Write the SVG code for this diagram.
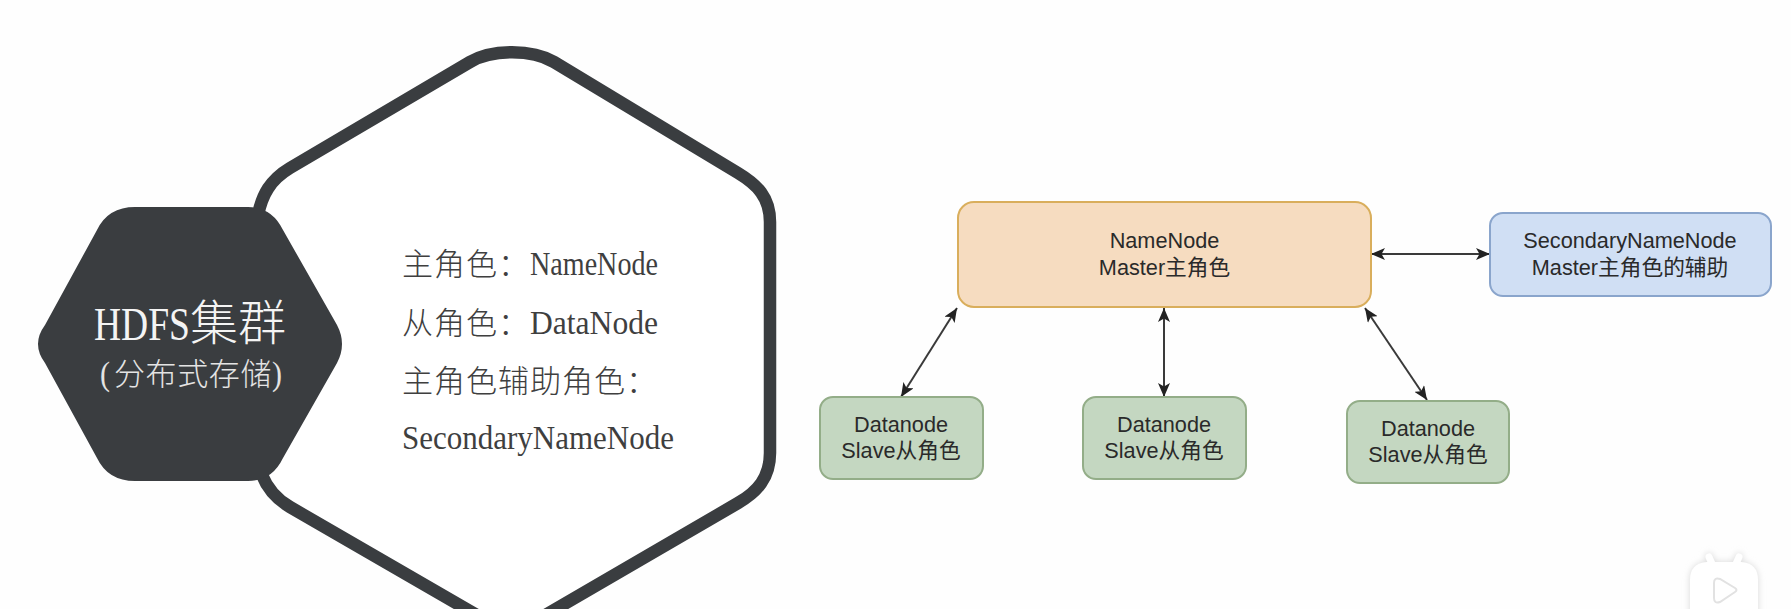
<svg xmlns="http://www.w3.org/2000/svg" width="1791" height="609" viewBox="0 0 1791 609">
<style>
.cn{font-family:"Liberation Serif","Noto Sans CJK SC",serif}
.body{font-size:32px;fill:#3f3f3f}
.lat{font-family:"Liberation Serif",serif;font-size:33px}
.zh{font-family:"Noto Sans CJK SC",sans-serif;font-size:31px;font-weight:300}
.box text{font-family:"Liberation Sans","Noto Sans CJK SC",sans-serif;font-size:21.7px;fill:#2a2a2a;text-anchor:middle}
.box rect{stroke-width:2}
.green rect{fill:#c4d7c1;stroke:#93ad88}
.conn line{stroke:#3a3a3a;stroke-width:2;marker-start:url(#arr);marker-end:url(#arr)}
</style>
<defs>
<marker id="arr" viewBox="0 0 14 12" refX="14" refY="6" markerUnits="userSpaceOnUse" markerWidth="14" markerHeight="12" orient="auto-start-reverse"><path d="M0,0 L14,6 L0,12 L3.5,6 Z" fill="#222"/></marker>
<filter id="soft" x="-30%" y="-30%" width="160%" height="160%"><feGaussianBlur stdDeviation="3"/></filter>
</defs>
<rect width="1791" height="609" fill="#fefefe"/>
<g id="outer-hexagon">
<path d="M258,215 C262,195 270,180 290,168 L470,62 C492,49 532,49 554,62 L738,173 C757,184.500 770,197 770,222 L770,453 C770,478 757,492 738,503 L530,624 Q512,634 494,625 L290,507 C278,500 268,490 262,475" fill="#fff" stroke="#3a3d40" stroke-width="12.5"/>
</g>
<g id="hdfs-cluster">
<path d="M135,207 L248,207 Q272,207 283,230 L337,325 Q347,344 337,363 L283,458 Q272,481 248,481 L135,481 Q108,481 97,458 L45,363 Q31,344 45,325 L97,230 Q108,207 135,207 Z" fill="#3a3d40"/>
<text class="cn" fill="#f4f4f4" y="340"><tspan class="lat" x="94" style="font-size:47px" textLength="96" lengthAdjust="spacingAndGlyphs">HDFS</tspan><tspan class="zh" x="190" style="font-size:48px">集群</tspan></text>
<text class="cn" fill="#e4e4e4" y="385"><tspan class="lat" x="100" textLength="10" lengthAdjust="spacingAndGlyphs">(</tspan><tspan class="zh" x="114" style="letter-spacing:.6px">分布式存储</tspan><tspan class="lat" x="272" textLength="10" lengthAdjust="spacingAndGlyphs">)</tspan></text>
</g>
<g id="role-text" class="cn body">
<text y="275"><tspan class="zh" x="402" style="letter-spacing:1px">主角色：</tspan><tspan class="lat" x="530" textLength="128" lengthAdjust="spacingAndGlyphs">NameNode</tspan></text>
<text y="334"><tspan class="zh" x="402" style="letter-spacing:1px">从角色：</tspan><tspan class="lat" x="530" textLength="128" lengthAdjust="spacingAndGlyphs">DataNode</tspan></text>
<text y="392"><tspan class="zh" x="402" style="letter-spacing:1px">主角色辅助角色：</tspan></text>
<text y="449"><tspan class="lat" x="402" textLength="272" lengthAdjust="spacingAndGlyphs">SecondaryNameNode</tspan></text>
</g>
<g id="connectors" class="conn">
<line x1="1371" y1="254" x2="1490" y2="254"/>
<line x1="957" y1="308" x2="901" y2="397"/>
<line x1="1164" y1="308" x2="1164" y2="397"/>
<line x1="1365" y1="308" x2="1427" y2="400"/>
</g>
<g id="namenode" class="box">
<rect x="958" y="202" width="413" height="105" rx="16" fill="#f6dcc0" stroke="#d9ae5c"/>
<text x="1164.5" y="248">NameNode</text>
<text x="1164.5" y="275">Master主角色</text>
</g>
<g id="secondary" class="box">
<rect x="1490" y="213" width="281" height="83" rx="13" fill="#d0dff4" stroke="#8aa5cc"/>
<text x="1630" y="248">SecondaryNameNode</text>
<text x="1630" y="275">Master主角色的辅助</text>
</g>
<g id="datanode1" class="box green">
<rect x="820" y="397" width="163" height="82" rx="13"/>
<text x="901" y="432">Datanode</text>
<text x="901" y="458">Slave从角色</text>
</g>
<g id="datanode2" class="box green">
<rect x="1083" y="397" width="163" height="82" rx="13"/>
<text x="1164" y="432">Datanode</text>
<text x="1164" y="458">Slave从角色</text>
</g>
<g id="datanode3" class="box green">
<rect x="1347" y="401" width="162" height="82" rx="13"/>
<text x="1428" y="436">Datanode</text>
<text x="1428" y="462">Slave从角色</text>
</g>
<g id="watermark">
<g filter="url(#soft)" stroke="#dcdcdc" fill="#dcdcdc">
<path d="M1690,580 Q1690,563 1707,562 L1741,562 Q1758,563 1758,580 L1758,615 L1690,615 Z" stroke-width="1"/>
<path d="M1713,566 L1709,557 M1735,566 L1739,557" stroke-width="8" stroke-linecap="round"/>
</g>
<path d="M1690,580 Q1690,563 1707,562 L1741,562 Q1758,563 1758,580 L1758,615 L1690,615 Z" fill="#fff"/>
<path d="M1713,566 L1709,557 M1735,566 L1739,557" stroke="#fff" stroke-width="7" stroke-linecap="round"/>
<path d="M1714,583 Q1714,577 1720,579 L1735,588 Q1738,590 1735,592 L1720,602 Q1714,604 1714,598 Z" fill="#fff" stroke="#e2e2e2" stroke-width="2"/>
</g>
</svg>
